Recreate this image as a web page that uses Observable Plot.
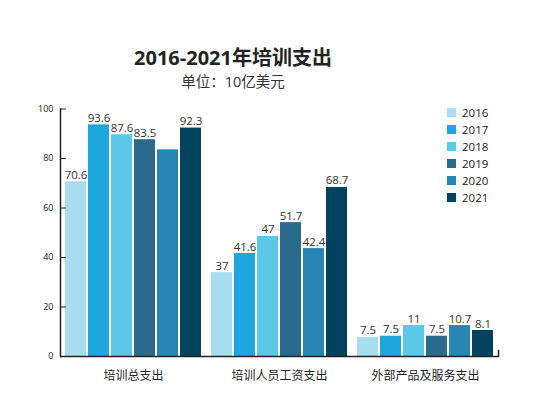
<!DOCTYPE html>
<html>
<head>
<meta charset="utf-8">
<script src="https://cdn.jsdelivr.net/npm/d3@7"></script>
<script src="https://cdn.jsdelivr.net/npm/@observablehq/plot@0.6"></script>
<style>
  html, body { margin: 0; padding: 0; background: #fff; }
  body { width: 536px; height: 396px; overflow: hidden; font-family: "Open Sans", "Noto Sans CJK SC", sans-serif; }
  #wrap { position: relative; width: 536px; height: 396px; }
  #head { position: relative; height: 95px; }
  #title { position: absolute; left: 0; width: 466px; top: 46px; text-align: center; font-size: 20px; line-height: 24px; font-weight: bold; color: #222; }
  #subtitle { position: absolute; left: 0; width: 466px; top: 73px; text-align: center; font-size: 14.5px; line-height: 18px; color: #333; }
  #legend { position: absolute; left: 447px; top: 104px; font-size: 11.5px; color: #222; }
  .row { display: flex; align-items: center; height: 17px; }
  .sw { width: 9px; height: 9px; margin-right: 6px; }
</style>
</head>
<body>
<div id="wrap">
  <div id="head">
    <div id="title">2016-2021年培训支出</div>
    <div id="subtitle">单位：10亿美元</div>
  </div>
  <div id="chart"></div>
  <div id="legend"></div>
</div>
<script>
const categories = ["培训总支出", "培训人员工资支出", "外部产品及服务支出"];
const years = ["2016", "2017", "2018", "2019", "2020", "2021"];
const colors = ["#a8dcf0", "#1ea6de", "#5bc8e8", "#2a6a8d", "#2886b4", "#00435f"];
const yTicks = [0, 20, 40, 60, 80, 100];

// bar heights as drawn
const totalValues = [70.6, 93.6, 89.6, 87.6, 83.5, 92.3];
const wageValues = [33.9, 41.6, 48.5, 54.1, 43.6, 68.3];
const externalValues = [7.7, 8.2, 12.5, 8.2, 12.5, 10.5];
// labels as printed
const totalLabels = ["70.6", "93.6", "87.6", "83.5", "", "92.3"];
const wageLabels = ["37", "41.6", "47", "51.7", "42.4", "68.7"];
const externalLabels = ["7.5", "7.5", "11", "7.5", "10.7", "8.1"];

const seriesValues = [totalValues, wageValues, externalValues];
const seriesLabels = [totalLabels, wageLabels, externalLabels];
const data = [];
categories.forEach((c, ci) => {
  years.forEach((y, yi) => {
    data.push({category: c, year: y, value: seriesValues[ci][yi], label: seriesLabels[ci][yi]});
  });
});

const lineShape = {draw(context, l) { context.moveTo(0, 0); context.lineTo(0, -l); }};
const axisColor = "#222";
const chart = Plot.plot({
  width: 536,
  height: 301,
  marginTop: 13.5,
  marginBottom: 40,
  marginLeft: 60,
  marginRight: 38,
  style: {fontFamily: "'Open Sans', 'Noto Sans CJK SC', sans-serif", color: "#222", background: "transparent"},
  fx: {domain: categories, padding: 0, label: null},
  x: {domain: years, paddingInner: 0.1, paddingOuter: 0.22, axis: null},
  y: {domain: [0, 100], label: null},
  color: {domain: years, range: colors},
  marks: [
    Plot.barY(data, {fx: "category", x: "year", y: "value", fill: "year"}),
    Plot.text(data, {fx: "category", x: "year", y: "value", text: "label", lineAnchor: "bottom", dy: -3, fontSize: 11.5, fill: "#333"}),
    Plot.ruleY([0], {stroke: axisColor, strokeWidth: 1.5}),
    Plot.frame({anchor: "left", facetAnchor: "left", stroke: axisColor, strokeWidth: 1.5}),
    Plot.vector(yTicks.slice(1), {y: d => d, frameAnchor: "left", rotate: 90, length: 5, anchor: "start", shape: lineShape, facetAnchor: "left", stroke: axisColor, strokeWidth: 1}),
    Plot.vector([null], {frameAnchor: "bottom-right", rotate: 0, length: 6, anchor: "start", shape: lineShape, facetAnchor: "right", stroke: axisColor, strokeWidth: 1.5}),
    Plot.axisY({ticks: yTicks, tickSize: 0, tickPadding: 7, fontSize: 9, fill: "#222", label: null}),
    Plot.axisFx({anchor: "bottom", tickSize: 0, tickPadding: 15, fontSize: 12, fill: "#222", label: null})
  ]
});
document.getElementById("chart").appendChild(chart);

const legend = document.getElementById("legend");
years.forEach((y, i) => {
  const row = document.createElement("div");
  row.className = "row";
  const sw = document.createElement("div");
  sw.className = "sw";
  sw.style.background = colors[i];
  const t = document.createElement("span");
  t.textContent = y;
  row.appendChild(sw);
  row.appendChild(t);
  legend.appendChild(row);
});
</script>
</body>
</html>
